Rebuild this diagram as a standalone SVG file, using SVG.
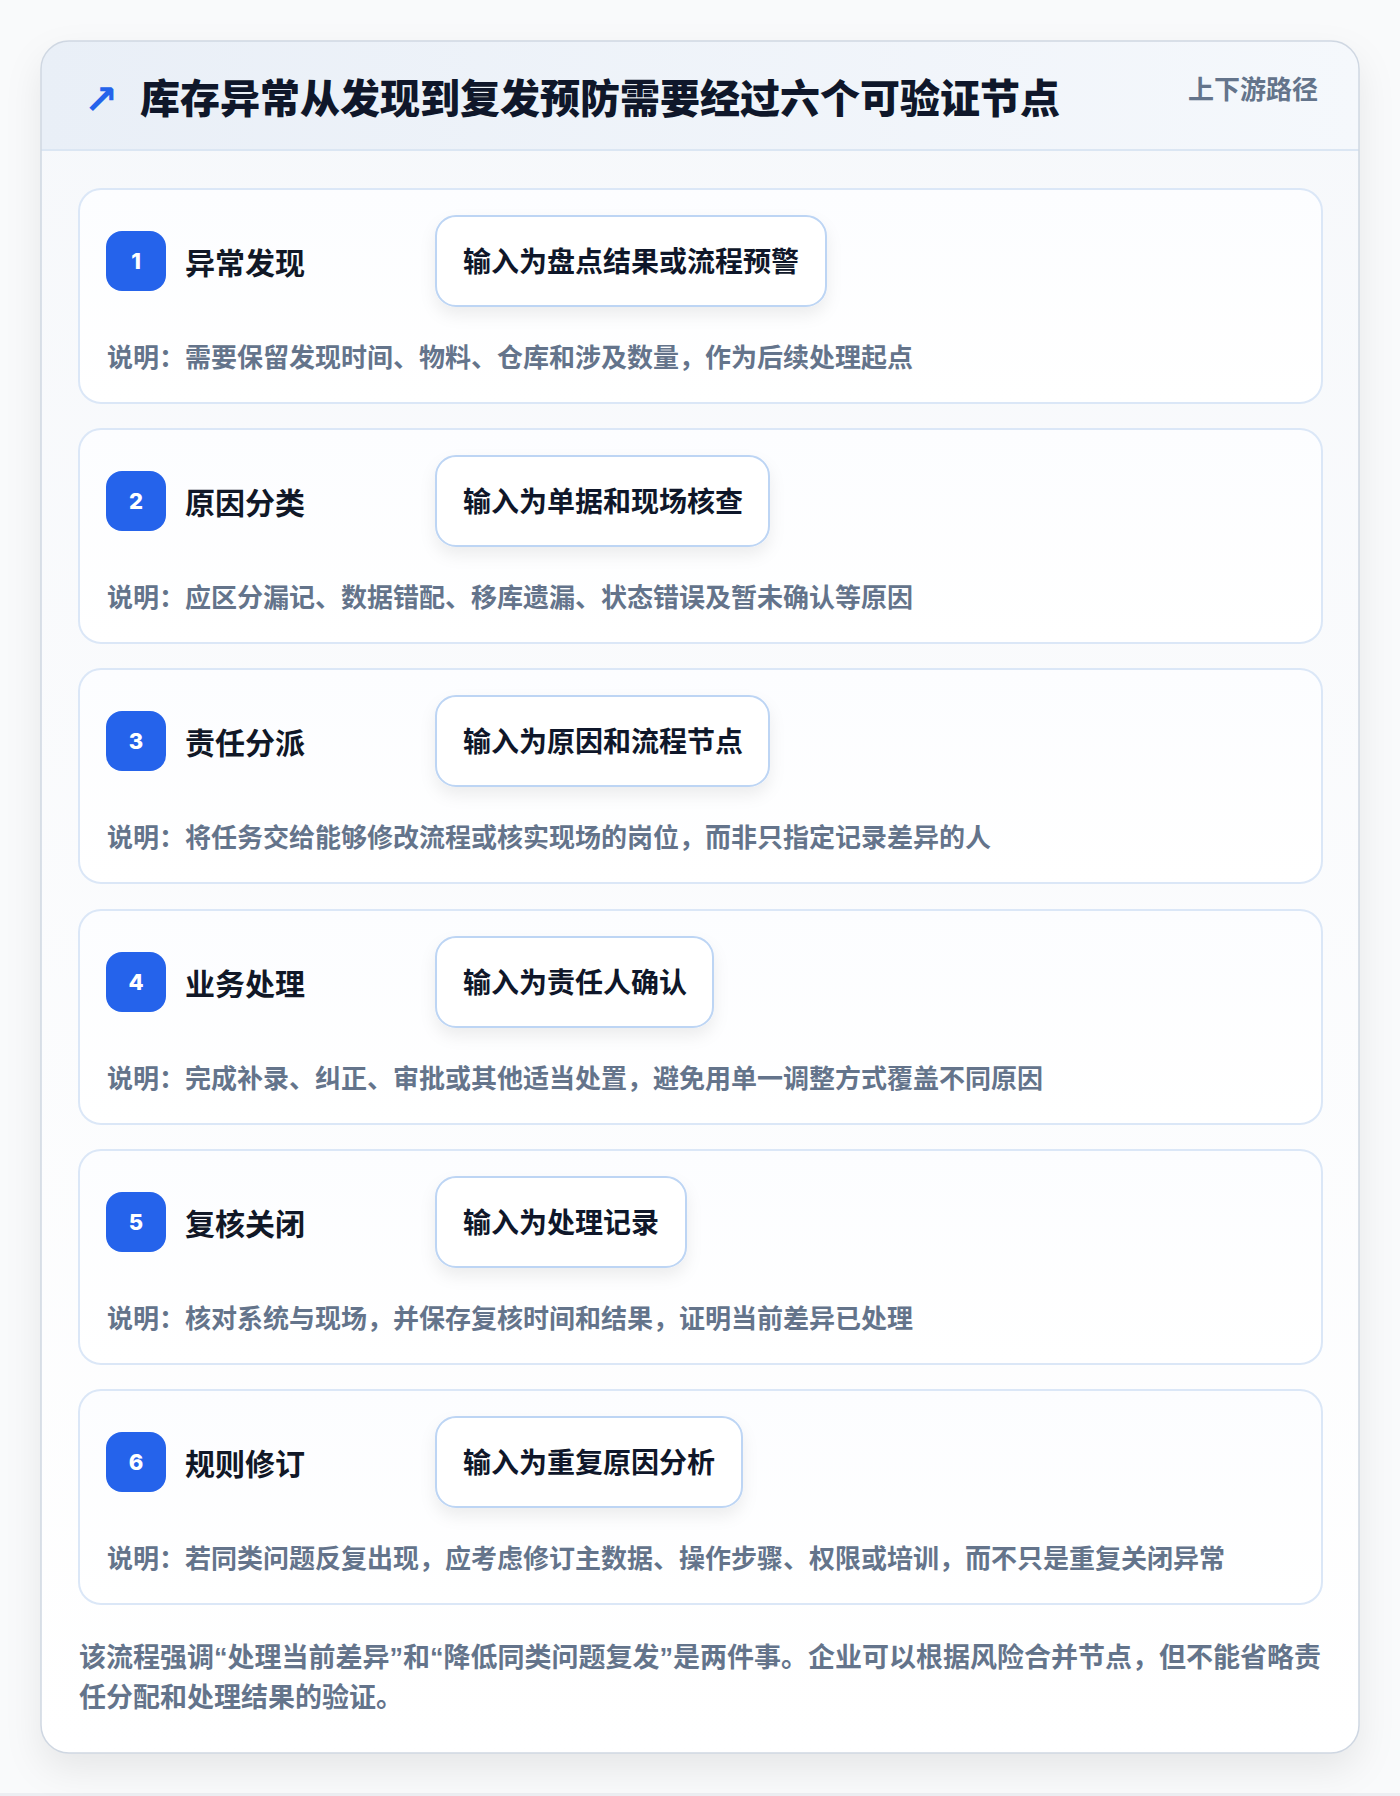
<svg xmlns="http://www.w3.org/2000/svg" width="1400" height="1796" viewBox="0 0 1400 1796">
<defs>
<linearGradient id="hdr" x1="0" y1="0" x2="1" y2="0"><stop offset="0" stop-color="#e9eff7"/><stop offset="1" stop-color="#f5f8fc"/></linearGradient>
<linearGradient id="body" x1="0" y1="0" x2="0" y2="1"><stop offset="0" stop-color="#f6f8fb"/><stop offset="1" stop-color="#ffffff"/></linearGradient>
<linearGradient id="cardg" x1="0" y1="0" x2="0" y2="1"><stop offset="0" stop-color="#fcfdff"/><stop offset="1" stop-color="#ffffff"/></linearGradient>
<filter id="outerShadow" x="-10%" y="-10%" width="120%" height="120%"><feDropShadow dx="0" dy="16" stdDeviation="18" flood-color="#0f172a" flood-opacity="0.08"/></filter>
<filter id="boxShadow" x="-20%" y="-30%" width="140%" height="180%"><feDropShadow dx="0" dy="8" stdDeviation="8" flood-color="#0f172a" flood-opacity="0.07"/></filter>
<clipPath id="outerClip"><rect x="41" y="41" width="1318" height="1712" rx="28"/></clipPath>
</defs>
<style>
text{font-family:"Noto Sans CJK SC","Noto Sans",sans-serif;font-weight:700}
.title{font-size:40px;fill:#0f172a;font-weight:900}
.icon{font-family:"DejaVu Sans",sans-serif;font-size:41px;fill:#2563eb;font-weight:700}
.tag{font-size:26px;fill:#64748b}
.card{fill:url(#cardg);stroke:#dbe7f7;stroke-width:2}
.badge{fill:#2563eb}
.num{font-family:Inter,"Noto Sans",sans-serif;font-size:22px;fill:#ffffff;text-anchor:middle;font-weight:800}
.name{font-size:30px;fill:#111827}
.box{fill:#ffffff;stroke:#bdd5f4;stroke-width:2;filter:url(#boxShadow)}
.inp{font-size:28px;fill:#0f172a}
.desc{font-size:26px;fill:#64748b}
.foot{font-size:27px;fill:#64748b}
.q{font-family:"Liberation Sans",sans-serif;font-weight:700}
</style>
<rect width="1400" height="1796" fill="#f9fafb"/>
<rect x="0" y="1793" width="1400" height="3" fill="#eceef2"/>
<g id="frame">
<rect x="41" y="41" width="1318" height="1712" rx="28" fill="url(#body)" filter="url(#outerShadow)"/>
<g clip-path="url(#outerClip)">
<rect x="41" y="41" width="1318" height="109" fill="url(#hdr)"/>
<line x1="41" y1="150" x2="1359" y2="150" stroke="#dbe6f3" stroke-width="2"/>
</g>
<rect x="41" y="41" width="1318" height="1712" rx="28" fill="none" stroke="#cfd7e2" stroke-width="1.5"/>
</g>
<g id="header">
<text class="icon" x="84" y="114">↗</text>
<text class="title" x="140" y="113">库存异常从发现到复发预防需要经过六个可验证节点</text>
<text class="tag" x="1318" y="99" text-anchor="end">上下游路径</text>
</g>
<g id="connectors"></g>
<g id="step1" transform="translate(0,189)">
<rect class="card" x="79" y="0" width="1243" height="214" rx="22"/>
<rect class="badge" x="106" y="42" width="60" height="60" rx="16"/>
<text class="num" x="136" y="80">1</text>
<text class="name" x="185" y="85">异常发现</text>
<rect class="box" x="436" y="27" width="390" height="90" rx="20"/>
<text class="inp" x="463" y="83">输入为盘点结果或流程预警</text>
<text class="desc" x="107" y="178">说明：需要保留发现时间、物料、仓库和涉及数量，作为后续处理起点</text>
</g>
<g id="step2" transform="translate(0,429)">
<rect class="card" x="79" y="0" width="1243" height="214" rx="22"/>
<rect class="badge" x="106" y="42" width="60" height="60" rx="16"/>
<text class="num" x="136" y="80">2</text>
<text class="name" x="185" y="85">原因分类</text>
<rect class="box" x="436" y="27" width="333" height="90" rx="20"/>
<text class="inp" x="463" y="83">输入为单据和现场核查</text>
<text class="desc" x="107" y="178">说明：应区分漏记、数据错配、移库遗漏、状态错误及暂未确认等原因</text>
</g>
<g id="step3" transform="translate(0,669)">
<rect class="card" x="79" y="0" width="1243" height="214" rx="22"/>
<rect class="badge" x="106" y="42" width="60" height="60" rx="16"/>
<text class="num" x="136" y="80">3</text>
<text class="name" x="185" y="85">责任分派</text>
<rect class="box" x="436" y="27" width="333" height="90" rx="20"/>
<text class="inp" x="463" y="83">输入为原因和流程节点</text>
<text class="desc" x="107" y="178">说明：将任务交给能够修改流程或核实现场的岗位，而非只指定记录差异的人</text>
</g>
<g id="step4" transform="translate(0,910)">
<rect class="card" x="79" y="0" width="1243" height="214" rx="22"/>
<rect class="badge" x="106" y="42" width="60" height="60" rx="16"/>
<text class="num" x="136" y="80">4</text>
<text class="name" x="185" y="85">业务处理</text>
<rect class="box" x="436" y="27" width="277" height="90" rx="20"/>
<text class="inp" x="463" y="83">输入为责任人确认</text>
<text class="desc" x="107" y="178">说明：完成补录、纠正、审批或其他适当处置，避免用单一调整方式覆盖不同原因</text>
</g>
<g id="step5" transform="translate(0,1150)">
<rect class="card" x="79" y="0" width="1243" height="214" rx="22"/>
<rect class="badge" x="106" y="42" width="60" height="60" rx="16"/>
<text class="num" x="136" y="80">5</text>
<text class="name" x="185" y="85">复核关闭</text>
<rect class="box" x="436" y="27" width="250" height="90" rx="20"/>
<text class="inp" x="463" y="83">输入为处理记录</text>
<text class="desc" x="107" y="178">说明：核对系统与现场，并保存复核时间和结果，证明当前差异已处理</text>
</g>
<g id="step6" transform="translate(0,1390)">
<rect class="card" x="79" y="0" width="1243" height="214" rx="22"/>
<rect class="badge" x="106" y="42" width="60" height="60" rx="16"/>
<text class="num" x="136" y="80">6</text>
<text class="name" x="185" y="85">规则修订</text>
<rect class="box" x="436" y="27" width="306" height="90" rx="20"/>
<text class="inp" x="463" y="83">输入为重复原因分析</text>
<text class="desc" x="107" y="178">说明：若同类问题反复出现，应考虑修订主数据、操作步骤、权限或培训，而不只是重复关闭异常</text>
</g>
<g id="footer">
<text class="foot" x="79" y="1667">该流程强调<tspan class="q">“</tspan>处理当前差异<tspan class="q">”</tspan>和<tspan class="q">“</tspan>降低同类问题复发<tspan class="q">”</tspan>是两件事。企业可以根据风险合并节点，但不能省略责</text>
<text class="foot" x="79" y="1707">任分配和处理结果的验证。</text>
</g>
</svg>
